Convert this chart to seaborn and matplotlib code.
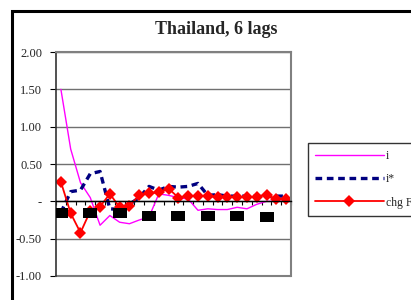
import numpy as np
import pandas as pd
import matplotlib
matplotlib.use("Agg")
import matplotlib.pyplot as plt
from matplotlib.patches import Rectangle
import seaborn as sns

# data (responses over 24 periods)
lags = list(range(24))
i_resp = [1.50, 0.70, 0.25, 0.05, -0.32, -0.19, -0.28, -0.30, -0.25, -0.21,
          0.10, 0.08, 0.05, 0.03, -0.12, -0.10, -0.11, -0.11, -0.08, -0.10,
          -0.04, 0.00, 0.00, 0.00]
istar_resp = [-0.15, 0.13, 0.15, 0.37, 0.40, -0.10, -0.11, -0.04, 0.05, 0.20,
              0.15, 0.20, 0.19, 0.20, 0.24, 0.08, 0.09, 0.07, 0.07, 0.07,
              0.07, 0.07, 0.07, 0.07]
chgf_resp = [0.26, -0.16, -0.42, -0.13, -0.07, 0.10, -0.08, -0.06, 0.08, 0.11,
             0.12, 0.17, 0.05, 0.07, 0.07, 0.07, 0.06, 0.06, 0.06, 0.06,
             0.06, 0.09, 0.03, 0.03]
band_lags = [0, 3, 6, 9, 12, 15, 18, 21]
band_vals = [-0.15, -0.16, -0.16, -0.20, -0.20, -0.20, -0.20, -0.21]

y_ticks = [2.0, 1.5, 1.0, 0.5, 0.0, -0.5, -1.0]
y_labels = ["2.00", "1.50", "1.00", "0.50", "-", "-0.50", "-1.00"]

df = pd.DataFrame({"lag": lags, "i": i_resp, "i*": istar_resp, "chg F": chgf_resp})
band = pd.DataFrame({"lag": band_lags, "val": band_vals})

sns.set_style("white")
plt.rcParams["font.family"] = ["Liberation Serif", "DejaVu Serif"]

fig = plt.figure(figsize=(4.11, 3.0), dpi=100)
ax = fig.add_axes([56 / 411, 1 - 276 / 300, 235 / 411, 224 / 300])

sns.lineplot(data=df, x="lag", y="i", ax=ax, color="#FF00FF", linewidth=1.0, label="i")
sns.lineplot(data=df, x="lag", y="i*", ax=ax, color="#000080", linewidth=2.4, label="i*")
ax.lines[-1].set_dashes([2.0, 1.4])
sns.lineplot(data=df, x="lag", y="chg F", ax=ax, color="#FF0000", linewidth=1.3,
             marker="D", markersize=6.5, markeredgewidth=0, label="chg F")
rect_marker = [(-1.4, -1), (1.4, -1), (1.4, 1), (-1.4, 1), (-1.4, -1)]
sns.scatterplot(data=band, x="lag", y="val", ax=ax, marker=rect_marker, s=110,
                color="black", linewidth=0, zorder=5)

ax.set_xlim(-0.5, 23.5)
ax.set_ylim(-1.0, 2.0)
ax.set_yticks(y_ticks)
ax.set_yticklabels(y_labels, fontsize=9)
ax.set_xlabel("")
ax.set_ylabel("")
ax.yaxis.grid(True, color="#707070", linewidth=1.0)
ax.set_axisbelow(True)

# category axis sits on the zero line
ax.spines["bottom"].set_position(("data", 0))
ax.spines["bottom"].set_color("black")
ax.spines["bottom"].set_linewidth(1.0)
ax.set_xticks(np.arange(-0.5, 24, 1))
ax.set_xticklabels([])
ax.tick_params(axis="x", direction="out", length=3, color="black", width=0.8, bottom=True)
ax.tick_params(axis="y", direction="out", length=4, color="black", width=0.8, left=True, pad=6)
for s in ["top", "right"]:
    ax.spines[s].set_color("#808080")
    ax.spines[s].set_linewidth(1.5)
ax.spines["left"].set_color("#333333")
ax.spines["left"].set_linewidth(1.2)
ax.axhline(-1.0, color="#808080", linewidth=1.5, clip_on=False)

ax.get_legend().remove()
handles, labels = ax.get_legend_handles_labels()
leg = fig.legend(handles[:3], labels[:3], loc="upper left",
                 bbox_to_anchor=(308 / 411, 1 - 143 / 300), frameon=True,
                 fancybox=False, edgecolor="black", fontsize=8.5,
                 handlelength=5.8, handletextpad=0.2, labelspacing=0.95,
                 borderpad=0.6, borderaxespad=0)
leg.get_frame().set_linewidth(1.0)

fig.text(216 / 411, 1 - 29 / 300, "Thailand, 6 lags", ha="center", va="center",
         fontsize=13, fontweight="bold")

# outer chart frame (cut off at right and bottom)
fig.add_artist(Rectangle((12 / 411, -0.2), 1.2, 1.2 - 11 / 300,
                         transform=fig.transFigure, fill=False,
                         edgecolor="black", linewidth=2.2))

fig.savefig("out.png", dpi=100, facecolor="white")
